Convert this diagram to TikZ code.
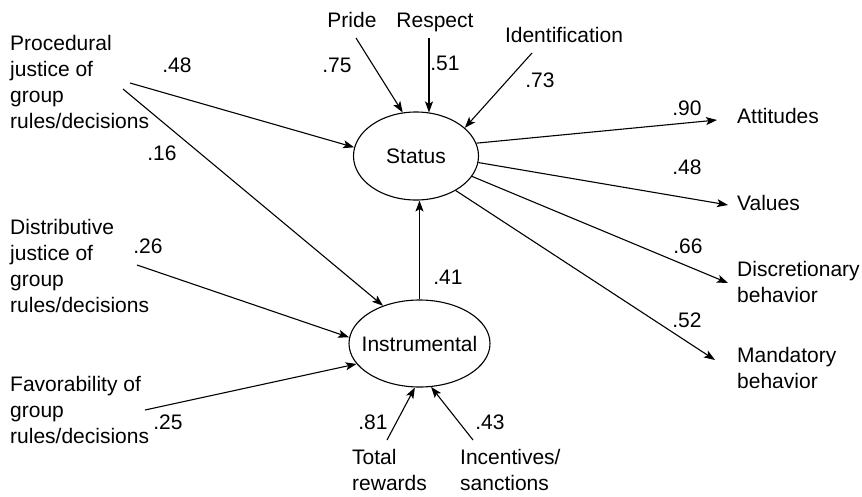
\documentclass[tikz,border=0pt]{standalone}
\usepackage{fontspec}
\setmainfont{Liberation Sans}
\usetikzlibrary{arrows.meta,shapes.geometric}
\begin{document}
\begin{tikzpicture}[x=1pt,y=-1pt,
  every node/.style={font=\fontsize{21}{26}\selectfont, inner sep=0pt},
  arr/.style={line width=1.1pt, -{Stealth[length=11pt,width=8pt,inset=2.5pt]}},
  latent/.style={draw, ellipse, line width=1.1pt},
  txt/.style={anchor=base west, align=left},
  coef/.style={anchor=center}]
\useasboundingbox (0,0) rectangle (862,496);

% latent factors
\node[latent, minimum width=125pt, minimum height=88pt] (status) at (416,156) {\makebox[0pt]{Status}};
\node[latent, minimum width=141pt, minimum height=87pt] (instr) at (419.5,343.5) {\makebox[0pt]{Instrumental}};

% antecedents on the left (placed by the baseline of their last line)
\node[txt] (proc) at (10,128) {Procedural\\justice of\\group\\rules/decisions};
\node[txt] (dist) at (10,312) {Distributive\\justice of\\group\\rules/decisions};
\node[txt] (fav) at (10,443) {Favorability of\\group\\rules/decisions};

% indicators of status
\node[anchor=base] (pride) at (352,27) {Pride};
\node[anchor=base] (respect) at (435,27) {Respect};
\node[anchor=base] (ident) at (564,42) {Identification};

% indicators of instrumental
\node[txt] (total) at (352,490) {Total\\rewards};
\node[txt] (incent) at (460,490) {Incentives/\\sanctions};

% outcomes
\node[txt] (att) at (737,123) {Attitudes};
\node[txt] (val) at (737,210) {Values};
\node[txt] (disc) at (737,302) {Discretionary\\behavior};
\node[txt] (mand) at (737,388) {Mandatory\\behavior};

% arrow end points beside the text labels
\coordinate (p1) at (130,83);
\coordinate (p2) at (123,89);
\coordinate (d1) at (137,265);
\coordinate (f1) at (145,410);
\coordinate (pr) at (356,38);
\coordinate (rs) at (429,38);
\coordinate (id) at (532,53);
\coordinate (at) at (717,120);
\coordinate (va) at (728,205);
\coordinate (di) at (728,283);
\coordinate (ma) at (715,360);
\coordinate (tr) at (387,440);
\coordinate (ic) at (473,440);

% paths into status
\draw[arr] (p1) -- (status.172);
\draw[arr] (pr) -- (status.107);
\draw[arr] (rs) -- (rs |- status.73);
\draw[arr] (id) -- (status.30);
\draw[arr] (instr.north) -- (instr.north |- status.south);

% paths into instrumental
\draw[arr] (p2) -- (instr.134);
\draw[arr] (d1) -- (instr.175.6);
\draw[arr] (f1) -- (instr.198.7);
\draw[arr] (tr) -- (instr.264.5);
\draw[arr] (ic) -- (instr.285);

% outcome paths
\draw[arr] (status.12.8) -- (at);
\draw[arr] (status.-6.4) -- (va);
\draw[arr] (status.-20) -- (di);
\draw[arr] (status.-41) -- (ma);

% coefficients
\node[coef] (c1) at (177,65) {.48};
\node[coef] (c2) at (162,153) {.16};
\node[coef] (c3) at (148,246) {.26};
\node[coef] (c4) at (168,422) {.25};
\node[coef] (c5) at (337,65) {.75};
\node[coef] (c6) at (445,63) {.51};
\node[coef] (c7) at (540,80) {.73};
\node[coef] (c8) at (687,108) {.90};
\node[coef] (c9) at (687,167) {.48};
\node[coef] (c10) at (688,246) {.66};
\node[coef] (c11) at (687,320) {.52};
\node[coef] (c12) at (448,277) {.41};
\node[coef] (c13) at (373,422) {.81};
\node[coef] (c14) at (490,422) {.43};
\end{tikzpicture}
\end{document}
